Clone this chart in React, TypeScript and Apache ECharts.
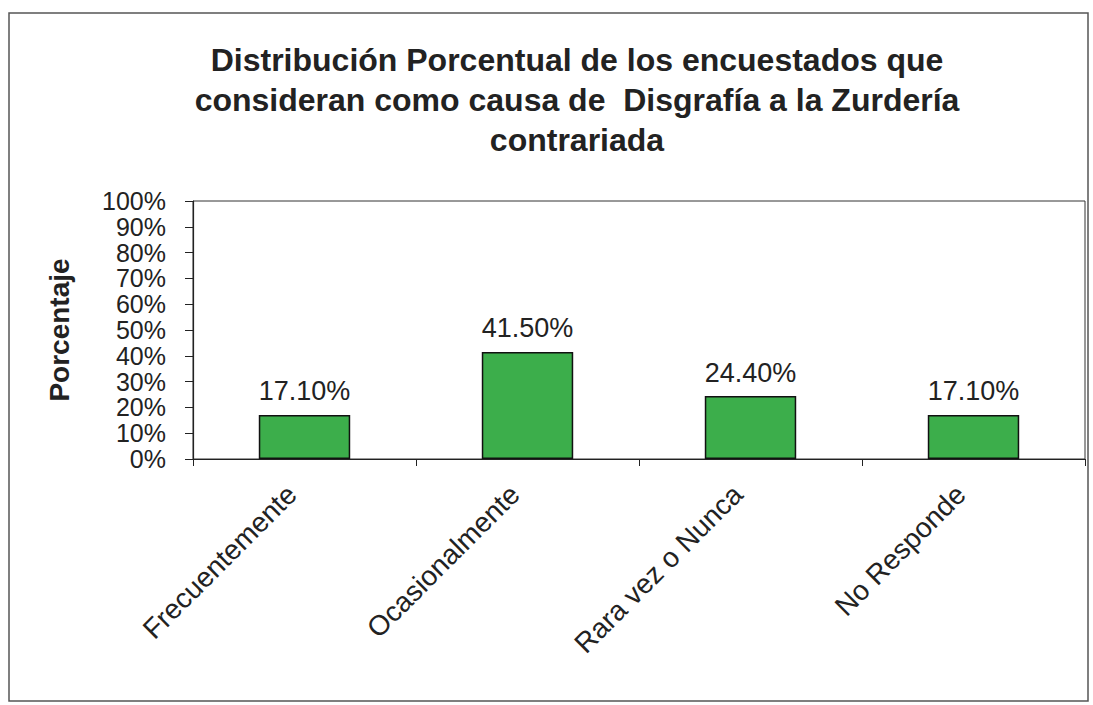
import React, { useEffect, useRef } from "react";
import * as echarts from "echarts";

const categories = ["Frecuentemente", "Ocasionalmente", "Rara vez o Nunca", "No Responde"];
const values = [17.1, 41.5, 24.4, 17.1];
const titleLines = [
  "Distribución Porcentual de los encuestados que",
  "consideran como causa de  Disgrafía a la Zurdería",
  "contrariada",
];
const yAxisName = "Porcentaje";

const FONT = "Arial, 'Liberation Sans', sans-serif";

export default function App() {
  const ref = useRef<HTMLDivElement>(null);
  useEffect(() => {
    document.body.style.margin = "0";
    const chart = echarts.init(ref.current!, undefined, { renderer: "svg" });
    chart.setOption({
      animation: false,
      backgroundColor: "#ffffff",
      textStyle: { fontFamily: FONT },
      title: {
        text: titleLines.join("\n"),
        left: 572,
        textAlign: "center",
        top: 35,
        textStyle: {
          fontFamily: FONT,
          fontSize: 32,
          fontWeight: "bold",
          color: "#222",
          lineHeight: 40,
        },
      },
      graphic: [
        {
          type: "rect",
          shape: { x: 9, y: 13, width: 1079, height: 688 },
          style: { fill: "none", stroke: "#555", lineWidth: 1.5 },
          silent: true,
        },
      ],
      grid: {
        left: 193,
        right: 8,
        top: 201,
        bottom: 246,
        show: true,
        borderColor: "#333",
        borderWidth: 1,
        backgroundColor: "transparent",
      },
      xAxis: {
        type: "category",
        data: categories,
        axisLine: { show: true, lineStyle: { color: "#222", width: 1.2 } },
        axisTick: { show: true, alignWithLabel: false, length: 7, lineStyle: { color: "#222" } },
        axisLabel: {
          rotate: 45,
          interval: 0,
          margin: 18,
          padding: [0, 18, 0, 0],
          fontSize: 28,
          color: "#222",
          fontFamily: FONT,
        },
      },
      yAxis: {
        type: "value",
        min: 0,
        max: 100,
        interval: 10,
        name: yAxisName,
        nameLocation: "middle",
        nameRotate: 90,
        nameGap: 120,
        nameTextStyle: { fontSize: 28, fontWeight: "bold", color: "#222", fontFamily: FONT },
        axisLine: { show: true, lineStyle: { color: "#222", width: 1.2 } },
        axisTick: { show: true, length: 8, lineStyle: { color: "#222" } },
        splitLine: { show: false },
        axisLabel: {
          formatter: "{value}%",
          fontSize: 25,
          color: "#222",
          margin: 27,
          fontFamily: FONT,
          lineHeight: 25,
          showMaxLabel: true,
          showMinLabel: true,
          hideOverlap: false,
        },
      },
      series: [
        {
          type: "bar",
          data: values,
          barWidth: "41%",
          itemStyle: { color: "#3cae4b", borderColor: "#111", borderWidth: 1.5 },
          label: {
            show: true,
            position: "top",
            distance: 10,
            fontSize: 27,
            color: "#222",
            fontFamily: FONT,
            formatter: (p: any) => p.value.toFixed(2) + "%",
          },
        },
      ],
    });
    return () => chart.dispose();
  }, []);
  return <div ref={ref} style={{ width: 1093, height: 705 }} />;
}
